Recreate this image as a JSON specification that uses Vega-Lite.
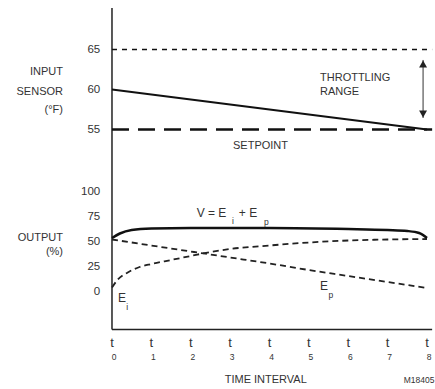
{
  "$schema": "https://vega.github.io/schema/vega-lite/v6.json",
  "width": 435,
  "height": 389,
  "padding": 0,
  "autosize": {"type": "fit", "contains": "padding"},
  "background": "white",
  "config": {"view": {"stroke": null}, "text": {"font": "Liberation Sans", "fill": "#333"}},
  "datasets": {
    "ei": [{"t":0,"v":4},{"t":0.15,"v":12},{"t":0.4,"v":19},{"t":0.7,"v":24.5},{"t":1,"v":27.5},{"t":1.5,"v":31.5},{"t":2,"v":35.5},{"t":2.5,"v":39.5},{"t":3,"v":42.5},{"t":4,"v":46},{"t":5,"v":49},{"t":6,"v":51},{"t":7,"v":52},{"t":8,"v":52.5}],
    "ep": [{"t":0,"v":52},{"t":1,"v":46},{"t":2,"v":40},{"t":3,"v":34},{"t":4,"v":28},{"t":5,"v":21.5},{"t":6,"v":15.5},{"t":7,"v":9.5},{"t":8,"v":3.5}],
    "vv": [{"t":0,"v":53.5},{"t":0.2,"v":58},{"t":0.5,"v":61.5},{"t":1,"v":63},{"t":2,"v":63.5},{"t":4,"v":63.5},{"t":6,"v":62.5},{"t":7,"v":61.5},{"t":7.5,"v":60.5},{"t":7.8,"v":58.5},{"t":8,"v":53.5}],
    "sensor": [{"t":0,"f":60},{"t":8,"f":55}],
    "ticksF": [{"x":-0.3,"y":65,"label":"65"},{"x":-0.3,"y":60,"label":"60"},{"x":-0.3,"y":55,"label":"55"}],
    "ticksP": [{"x":-0.3,"y":100,"label":"100"},{"x":-0.3,"y":75,"label":"75"},{"x":-0.3,"y":50,"label":"50"},{"x":-0.3,"y":25,"label":"25"},{"x":-0.3,"y":0,"label":"0"}],
    "labelsFL": [{"x":-1.244,"y":62.19,"label":"INPUT"},{"x":-1.244,"y":59.69,"label":"SENSOR"},{"x":-1.244,"y":57.44,"label":"(°F)"}],
    "labelsFR": [{"x":5.283,"y":61.44,"label":"THROTTLING"},{"x":5.283,"y":59.69,"label":"RANGE"},{"x":3.073,"y":52.94,"label":"SETPOINT"}],
    "labelsP": [{"x":-1.244,"y":53.5,"label":"OUTPUT"},{"x":-1.244,"y":39.5,"label":"(%)"}],
    "tt": [{"t":0,"label":"t"},{"t":1,"label":"t"},{"t":2,"label":"t"},{"t":3,"label":"t"},{"t":4,"label":"t"},{"t":5,"label":"t"},{"t":6,"label":"t"},{"t":7,"label":"t"},{"t":8,"label":"t"}],
    "tsub": [{"t":0,"label":"0"},{"t":1,"label":"1"},{"t":2,"label":"2"},{"t":3,"label":"3"},{"t":4,"label":"4"},{"t":5,"label":"5"},{"t":6,"label":"6"},{"t":7,"label":"7"},{"t":8,"label":"8"}],
    "big": [{"x":2.15,"y":78.5,"label":"V = E"},{"x":3.22,"y":78.5,"label":"+ E"},{"x":0.152,"y":-6.5,"label":"E"},{"x":5.28,"y":5.5,"label":"E"}],
    "small": [{"x":3.05,"y":71,"label":"i"},{"x":3.86,"y":70,"label":"p"},{"x":0.36,"y":-15,"label":"i"},{"x":5.5,"y":-3.5,"label":"p"}]
  },
  "layer": [
    {
      "data": {"values": [{"x": 0, "y": -38, "y2": 283.5}]},
      "mark": {"type": "rule", "color": "#222", "strokeWidth": 1.5},
      "encoding": {
        "x": {"field": "x", "type": "quantitative", "scale": {"domain": [-2.844, 8.203], "nice": false, "zero": false}, "axis": null},
        "y": {"field": "y", "type": "quantitative", "scale": {"domain": [-97.5, 291.5], "nice": false, "zero": false}, "axis": null},
        "y2": {"field": "y2"}
      }
    },
    {
      "data": {"values": [{"x": 0, "x2": 8.13, "y": -38}]},
      "mark": {"type": "rule", "color": "#222", "strokeWidth": 1.5},
      "encoding": {
        "x": {"field": "x", "type": "quantitative", "scale": {"domain": [-2.844, 8.203], "nice": false, "zero": false}, "axis": null},
        "x2": {"field": "x2"},
        "y": {"field": "y", "type": "quantitative", "scale": {"domain": [-97.5, 291.5], "nice": false, "zero": false}, "axis": null}
      }
    },
    {
      "data": {"values": [{"x": 0, "x2": 8.13, "y": 65}]},
      "mark": {"type": "rule", "color": "#111", "strokeWidth": 1.5, "strokeDash": [5, 5]},
      "encoding": {
        "x": {"field": "x", "type": "quantitative", "scale": {"domain": [-2.844, 8.203], "nice": false, "zero": false}, "axis": null},
        "x2": {"field": "x2"},
        "y": {"field": "y", "type": "quantitative", "scale": {"domain": [22.5625, 71.1875], "nice": false, "zero": false}, "axis": null}
      }
    },
    {
      "data": {"values": [{"x": 0, "x2": 8.13, "y": 55}]},
      "mark": {"type": "rule", "color": "#111", "strokeWidth": 2.5, "strokeDash": [17, 9]},
      "encoding": {
        "x": {"field": "x", "type": "quantitative", "scale": {"domain": [-2.844, 8.203], "nice": false, "zero": false}, "axis": null},
        "x2": {"field": "x2"},
        "y": {"field": "y", "type": "quantitative", "scale": {"domain": [22.5625, 71.1875], "nice": false, "zero": false}, "axis": null}
      }
    },
    {
      "data": {"name": "sensor"},
      "mark": {"type": "line", "color": "#111", "strokeWidth": 2},
      "encoding": {
        "x": {"field": "t", "type": "quantitative", "scale": {"domain": [-2.844, 8.203], "nice": false, "zero": false}, "axis": null},
        "y": {"field": "f", "type": "quantitative", "scale": {"domain": [22.5625, 71.1875], "nice": false, "zero": false}, "axis": null}
      }
    },
    {
      "data": {"values": [{"x": 7.9, "y": 63.69, "y2": 56.44}]},
      "mark": {"type": "rule", "color": "#333", "strokeWidth": 1},
      "encoding": {
        "x": {"field": "x", "type": "quantitative", "scale": {"domain": [-2.844, 8.203], "nice": false, "zero": false}, "axis": null},
        "y": {"field": "y", "type": "quantitative", "scale": {"domain": [22.5625, 71.1875], "nice": false, "zero": false}, "axis": null},
        "y2": {"field": "y2"}
      }
    },
    {
      "data": {"values": [{"x": 7.9, "y": 63.19, "shape": "triangle-up"}, {"x": 7.9, "y": 56.94, "shape": "triangle-down"}]},
      "mark": {"type": "point", "filled": true, "color": "#222", "size": 64, "opacity": 1},
      "encoding": {
        "x": {"field": "x", "type": "quantitative", "scale": {"domain": [-2.844, 8.203], "nice": false, "zero": false}, "axis": null},
        "y": {"field": "y", "type": "quantitative", "scale": {"domain": [22.5625, 71.1875], "nice": false, "zero": false}, "axis": null},
        "shape": {"field": "shape", "type": "nominal", "scale": {"domain": ["triangle-up", "triangle-down"], "range": ["triangle-up", "triangle-down"]}, "legend": null}
      }
    },
    {
      "data": {"name": "ei"},
      "mark": {"type": "line", "color": "#222", "strokeWidth": 1.8, "strokeDash": [6, 4], "interpolate": "monotone"},
      "encoding": {
        "x": {"field": "t", "type": "quantitative", "scale": {"domain": [-2.844, 8.203], "nice": false, "zero": false}, "axis": null},
        "y": {"field": "v", "type": "quantitative", "scale": {"domain": [-97.5, 291.5], "nice": false, "zero": false}, "axis": null}
      }
    },
    {
      "data": {"name": "ep"},
      "mark": {"type": "line", "color": "#222", "strokeWidth": 1.8, "strokeDash": [6, 4], "interpolate": "monotone"},
      "encoding": {
        "x": {"field": "t", "type": "quantitative", "scale": {"domain": [-2.844, 8.203], "nice": false, "zero": false}, "axis": null},
        "y": {"field": "v", "type": "quantitative", "scale": {"domain": [-97.5, 291.5], "nice": false, "zero": false}, "axis": null}
      }
    },
    {
      "data": {"name": "vv"},
      "mark": {"type": "line", "color": "#111", "strokeWidth": 2.5, "interpolate": "monotone"},
      "encoding": {
        "x": {"field": "t", "type": "quantitative", "scale": {"domain": [-2.844, 8.203], "nice": false, "zero": false}, "axis": null},
        "y": {"field": "v", "type": "quantitative", "scale": {"domain": [-97.5, 291.5], "nice": false, "zero": false}, "axis": null}
      }
    },
    {
      "data": {"name": "ticksF"},
      "mark": {"type": "text", "align": "right", "baseline": "middle", "fontSize": 11.5},
      "encoding": {
        "x": {"field": "x", "type": "quantitative", "scale": {"domain": [-2.844, 8.203], "nice": false, "zero": false}, "axis": null},
        "y": {"field": "y", "type": "quantitative", "scale": {"domain": [22.5625, 71.1875], "nice": false, "zero": false}, "axis": null},
        "text": {"field": "label"}
      }
    },
    {
      "data": {"name": "labelsFL"},
      "mark": {"type": "text", "align": "right", "baseline": "middle", "fontSize": 11},
      "encoding": {
        "x": {"field": "x", "type": "quantitative", "scale": {"domain": [-2.844, 8.203], "nice": false, "zero": false}, "axis": null},
        "y": {"field": "y", "type": "quantitative", "scale": {"domain": [22.5625, 71.1875], "nice": false, "zero": false}, "axis": null},
        "text": {"field": "label"}
      }
    },
    {
      "data": {"name": "labelsFR"},
      "mark": {"type": "text", "align": "left", "baseline": "middle", "fontSize": 11},
      "encoding": {
        "x": {"field": "x", "type": "quantitative", "scale": {"domain": [-2.844, 8.203], "nice": false, "zero": false}, "axis": null},
        "y": {"field": "y", "type": "quantitative", "scale": {"domain": [22.5625, 71.1875], "nice": false, "zero": false}, "axis": null},
        "text": {"field": "label"}
      }
    },
    {
      "data": {"name": "ticksP"},
      "mark": {"type": "text", "align": "right", "baseline": "middle", "fontSize": 11.5},
      "encoding": {
        "x": {"field": "x", "type": "quantitative", "scale": {"domain": [-2.844, 8.203], "nice": false, "zero": false}, "axis": null},
        "y": {"field": "y", "type": "quantitative", "scale": {"domain": [-97.5, 291.5], "nice": false, "zero": false}, "axis": null},
        "text": {"field": "label"}
      }
    },
    {
      "data": {"name": "labelsP"},
      "mark": {"type": "text", "align": "right", "baseline": "middle", "fontSize": 11},
      "encoding": {
        "x": {"field": "x", "type": "quantitative", "scale": {"domain": [-2.844, 8.203], "nice": false, "zero": false}, "axis": null},
        "y": {"field": "y", "type": "quantitative", "scale": {"domain": [-97.5, 291.5], "nice": false, "zero": false}, "axis": null},
        "text": {"field": "label"}
      }
    },
    {
      "data": {"name": "tt"},
      "mark": {"type": "text", "align": "center", "baseline": "middle", "fontSize": 13},
      "encoding": {
        "x": {"field": "t", "type": "quantitative", "scale": {"domain": [-2.844, 8.203], "nice": false, "zero": false}, "axis": null},
        "y": {"datum": -51.5, "type": "quantitative", "scale": {"domain": [-97.5, 291.5], "nice": false, "zero": false}, "axis": null},
        "text": {"field": "label"}
      }
    },
    {
      "data": {"name": "tsub"},
      "mark": {"type": "text", "align": "center", "baseline": "middle", "fontSize": 8.5, "dx": 2},
      "encoding": {
        "x": {"field": "t", "type": "quantitative", "scale": {"domain": [-2.844, 8.203], "nice": false, "zero": false}, "axis": null},
        "y": {"datum": -65.5, "type": "quantitative", "scale": {"domain": [-97.5, 291.5], "nice": false, "zero": false}, "axis": null},
        "text": {"field": "label"}
      }
    },
    {
      "data": {"values": [{"x": 3.905, "y": -88.5, "label": "TIME INTERVAL"}]},
      "mark": {"type": "text", "align": "center", "baseline": "middle", "fontSize": 11},
      "encoding": {
        "x": {"field": "x", "type": "quantitative", "scale": {"domain": [-2.844, 8.203], "nice": false, "zero": false}, "axis": null},
        "y": {"field": "y", "type": "quantitative", "scale": {"domain": [-97.5, 291.5], "nice": false, "zero": false}, "axis": null},
        "text": {"field": "label"}
      }
    },
    {
      "data": {"values": [{"x": 8.19, "y": -88.5, "label": "M18405"}]},
      "mark": {"type": "text", "align": "right", "baseline": "middle", "fontSize": 8.5},
      "encoding": {
        "x": {"field": "x", "type": "quantitative", "scale": {"domain": [-2.844, 8.203], "nice": false, "zero": false}, "axis": null},
        "y": {"field": "y", "type": "quantitative", "scale": {"domain": [-97.5, 291.5], "nice": false, "zero": false}, "axis": null},
        "text": {"field": "label"}
      }
    },
    {
      "data": {"name": "big"},
      "mark": {"type": "text", "align": "left", "baseline": "middle", "fontSize": 12},
      "encoding": {
        "x": {"field": "x", "type": "quantitative", "scale": {"domain": [-2.844, 8.203], "nice": false, "zero": false}, "axis": null},
        "y": {"field": "y", "type": "quantitative", "scale": {"domain": [-97.5, 291.5], "nice": false, "zero": false}, "axis": null},
        "text": {"field": "label"}
      }
    },
    {
      "data": {"name": "small"},
      "mark": {"type": "text", "align": "left", "baseline": "middle", "fontSize": 8.5},
      "encoding": {
        "x": {"field": "x", "type": "quantitative", "scale": {"domain": [-2.844, 8.203], "nice": false, "zero": false}, "axis": null},
        "y": {"field": "y", "type": "quantitative", "scale": {"domain": [-97.5, 291.5], "nice": false, "zero": false}, "axis": null},
        "text": {"field": "label"}
      }
    }
  ],
  "resolve": {"scale": {"y": "independent"}}
}
